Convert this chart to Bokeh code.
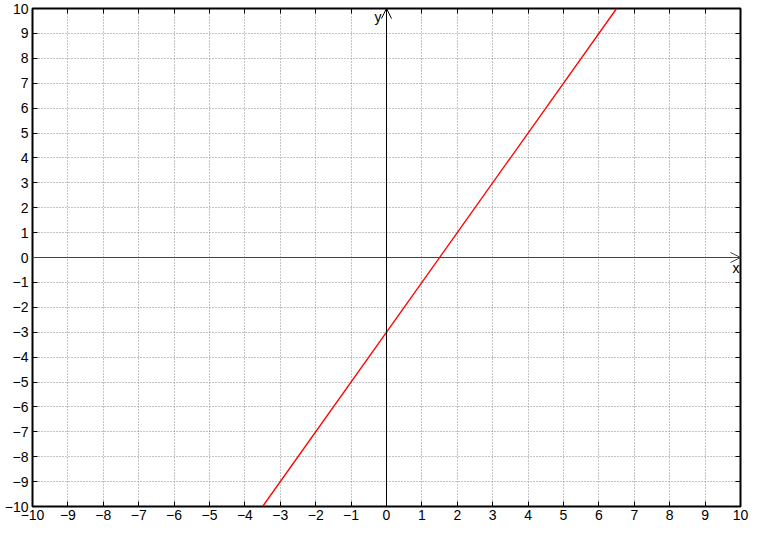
from bokeh.plotting import figure
from bokeh.models import FixedTicker, LinearAxis, Arrow, OpenHead, Label, Range1d
from bokeh.embed import file_html
from bokeh.resources import INLINE

# data
line_x = [-3.5, 6.5]
line_y = [-10, 10]
ticks = list(range(-10, 11))
tick_labels = {t: (str(t).replace("-", "\u2212")) for t in ticks}

p = figure(width=750, height=526, output_backend="svg", toolbar_location=None,
           x_range=Range1d(-10, 10), y_range=Range1d(-10, 10),
           min_border_left=32, min_border_right=10, min_border_top=8, min_border_bottom=20)
p.background_fill_color = "white"
p.border_fill_color = "white"
p.outline_line_color = "black"
p.outline_line_width = 2

def style_axis(ax, show_labels=True):
    ax.ticker = FixedTicker(ticks=ticks)
    ax.major_tick_in = 5
    ax.major_tick_out = 0
    ax.minor_tick_line_color = None
    ax.axis_line_color = None
    ax.major_tick_line_color = "black"
    ax.major_label_text_font = "Liberation Sans"
    ax.major_label_text_font_size = "14px"
    ax.major_label_text_color = "black"
    ax.major_label_standoff = 4
    if show_labels:
        ax.major_label_overrides = tick_labels
    else:
        ax.major_label_overrides = {t: "" for t in ticks}
        ax.major_label_standoff = 0

style_axis(p.xaxis[0])
style_axis(p.yaxis[0])
p.xaxis[0].major_label_standoff = 3
rax = LinearAxis()
style_axis(rax, False)
tax = LinearAxis()
style_axis(tax, False)
p.add_layout(rax, "right")
p.add_layout(tax, "above")

for g in (p.xgrid[0], p.ygrid[0]):
    g.ticker = FixedTicker(ticks=ticks)
    g.grid_line_color = "#888888"
    g.grid_line_dash = "1 2"
    g.grid_line_width = 1

# coordinate axes with arrows
p.add_layout(Arrow(x_start=-10, y_start=0, x_end=10, y_end=0, line_color="#444444", line_width=1,
                   end=OpenHead(size=10, line_color="#444444", line_width=1)))
p.add_layout(Arrow(x_start=0, y_start=-10, x_end=0, y_end=10, line_color="black", line_width=1,
                   end=OpenHead(size=10, line_color="black", line_width=1)))
p.add_layout(Label(x=10, y=0, text="x", x_offset=-8, y_offset=-18, text_font="Liberation Sans",
                   text_font_size="14px", text_color="black"))
p.add_layout(Label(x=0, y=10, text="y", x_offset=-12, y_offset=-16, text_font="Liberation Sans",
                   text_font_size="14px", text_color="black"))

p.line(line_x, line_y, line_color="red", line_width=1.3)

open("out.html", "w").write(file_html(p, INLINE))
